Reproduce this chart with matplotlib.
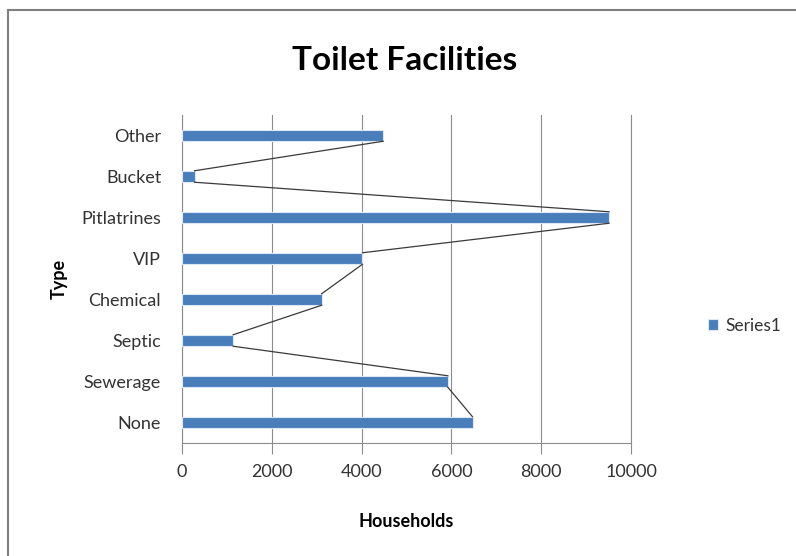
import matplotlib
matplotlib.use("Agg")
import matplotlib.pyplot as plt
from matplotlib.lines import Line2D

categories = ["None", "Sewerage", "Septic", "Chemical", "VIP", "Pitlatrines", "Bucket", "Other"]
households = [6470, 5920, 1140, 3110, 4020, 9510, 280, 4480]
xticks = [0, 2000, 4000, 6000, 8000, 10000]

plt.rcParams["font.family"] = ["Lato", "DejaVu Sans"]

fig = plt.figure(figsize=(7.96, 5.56), dpi=100)
W, H = 796, 556
ax = fig.add_axes([182 / W, 1 - 443 / H, (631 - 182) / W, (443 - 115) / H])

bar_h = 0.28
y = list(range(len(categories)))
ax.barh(y, households, height=bar_h, color="#4a7ebb", edgecolor="#dce8f5", linewidth=0.8,
        label="Series1", zorder=3)

# series lines connecting bar corners
for i in range(len(categories) - 1, 0, -1):
    ax.plot([households[i], households[i - 1]], [i - bar_h / 2, i - 1 + bar_h / 2],
            color="#3a3a3a", lw=0.9, zorder=4)

ax.set_xlim(0, 10000)
ax.set_ylim(-0.5, len(categories) - 0.5)
ax.set_xticks(xticks)
ax.set_xticklabels([str(t) for t in xticks], fontsize=13, color="#333333")
ax.set_yticks(y)
ax.set_yticklabels(categories, fontsize=13, color="#333333")
ax.grid(axis="x", color="#8c8c8c", lw=0.8, zorder=0)
ax.axvline(10000, color="#8c8c8c", lw=0.8, zorder=0, clip_on=False)
for s in ["top", "right"]:
    ax.spines[s].set_visible(False)
ax.spines["left"].set_color("#8c8c8c")
ax.spines["bottom"].set_color("#8c8c8c")
ax.tick_params(axis="x", length=8, color="#8c8c8c", pad=7)
ax.tick_params(axis="y", length=0, pad=15)

ax.set_xlabel("Households", fontsize=13, fontweight="bold", labelpad=24)
ax.set_ylabel("Type", fontsize=13, fontweight="bold", labelpad=10)

fig.text(405 / W, 1 - 60 / H, "Toilet Facilities", fontsize=24, fontweight="bold",
         ha="center", va="center")

leg = ax.legend(loc="center left", bbox_to_anchor=(692 / W, 1 - 326 / H),
                bbox_transform=fig.transFigure, frameon=False, fontsize=12.5,
                handlelength=0.6, handleheight=0.6, handletextpad=0.4)
for t in leg.get_texts():
    t.set_color("#333333")

# outer frame (left and top edges visible)
fig.add_artist(Line2D([8 / W, 8 / W], [0, 1 - 10 / H], transform=fig.transFigure,
                      color="#7f7f7f", lw=1.5))
fig.add_artist(Line2D([8 / W, 1], [1 - 10 / H, 1 - 10 / H], transform=fig.transFigure,
                      color="#7f7f7f", lw=1.5))

fig.savefig("out.png", dpi=100)
